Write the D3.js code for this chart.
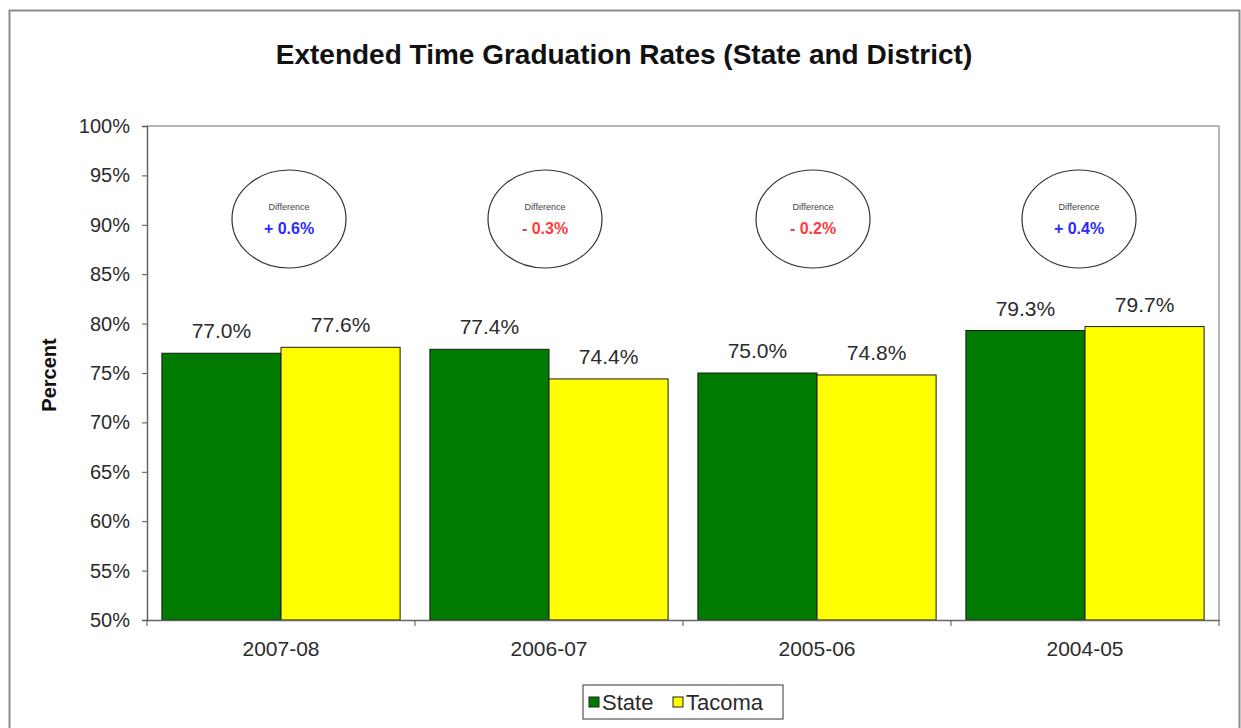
<!DOCTYPE html>
<html>
<head>
<meta charset="utf-8">
<script src="https://cdn.jsdelivr.net/npm/d3@7"></script>
<style>
  html, body { margin: 0; padding: 0; background: #fff; }
  svg { display: block; }
  text { font-family: "Liberation Sans", Arial, sans-serif; }
</style>
</head>
<body>
<svg id="chart" width="1241" height="728"></svg>
<script>
const title = "Extended Time Graduation Rates (State and District)";
const yAxisLabel = "Percent";
const categories = ["2007-08", "2006-07", "2005-06", "2004-05"];
const seriesNames = ["State", "Tacoma"];
const stateValues = [77.0, 77.4, 75.0, 79.3];
const tacomaValues = [77.6, 74.4, 74.8, 79.7];
const differenceLabels = ["+ 0.6%", "- 0.3%", "- 0.2%", "+ 0.4%"];
const differenceSigns = ["pos", "neg", "neg", "pos"];
const yTicks = [50, 55, 60, 65, 70, 75, 80, 85, 90, 95, 100];

const colors = { State: "#007b00", Tacoma: "#ffff00" };
const diffColors = { pos: "#2a2aff", neg: "#ff3b3b" };
const textColor = "#2b2b2b";

const svg = d3.select("#chart");
const plot = { left: 147, right: 1219, top: 126, bottom: 620 };

// outer chart border
svg.append("rect")
  .attr("x", 9.5).attr("y", 10.5)
  .attr("width", 1230).attr("height", 740)
  .attr("fill", "#fff").attr("stroke", "#8c8c8c").attr("stroke-width", 2);

// title
svg.append("text")
  .attr("x", 624).attr("y", 64)
  .attr("text-anchor", "middle")
  .attr("font-size", 28).attr("font-weight", "bold")
  .attr("fill", "#111")
  .text(title);

const x0 = d3.scaleBand().domain(categories)
  .range([plot.left, plot.right]).paddingInner(0).paddingOuter(0);
const x1 = d3.scaleBand().domain(seriesNames)
  .range([0, x0.bandwidth()]).paddingInner(0).paddingOuter(0.125);
const y = d3.scaleLinear().domain([50, 100]).range([plot.bottom, plot.top]);

// plot area border (top/right)
svg.append("path")
  .attr("d", `M${plot.left},${plot.top}H${plot.right}V${plot.bottom}`)
  .attr("fill", "none").attr("stroke", "#a0a0a0").attr("stroke-width", 1.5);

// data rows
const rows = categories.map((c, i) => ({
  category: c,
  values: [
    { series: "State", value: stateValues[i] },
    { series: "Tacoma", value: tacomaValues[i] }
  ],
  diff: differenceLabels[i],
  sign: differenceSigns[i]
}));

// bars
const groups = svg.append("g").selectAll("g")
  .data(rows).join("g")
  .attr("transform", d => `translate(${x0(d.category)},0)`);

groups.selectAll("rect")
  .data(d => d.values).join("rect")
  .attr("x", d => x1(d.series))
  .attr("y", d => y(d.value))
  .attr("width", x1.bandwidth())
  .attr("height", d => y(50) - y(d.value))
  .attr("fill", d => colors[d.series])
  .attr("stroke", "#1a1a1a").attr("stroke-width", 1);

// value labels
groups.selectAll("text.val")
  .data(d => d.values).join("text")
  .attr("class", "val")
  .attr("x", d => x1(d.series) + x1.bandwidth() / 2)
  .attr("y", d => y(d.value) - 15)
  .attr("text-anchor", "middle")
  .attr("font-size", 21)
  .attr("fill", textColor)
  .text(d => d.value.toFixed(1) + "%");

// y axis
const yAxis = svg.append("g")
  .attr("transform", `translate(${plot.left},0)`)
  .call(d3.axisLeft(y).tickValues(yTicks).tickFormat(d => d + "%").tickSize(5).tickPadding(12));
yAxis.selectAll("text").attr("font-size", 20).attr("fill", textColor)
  .attr("font-family", "'Liberation Sans', Arial, sans-serif");
yAxis.selectAll("line").attr("stroke", "#555");
yAxis.select(".domain").attr("stroke", "#666").attr("stroke-width", 1.5);

// x axis
const xAxis = svg.append("g")
  .attr("transform", `translate(0,${plot.bottom})`)
  .call(d3.axisBottom(x0).tickSize(0).tickPadding(21));
xAxis.selectAll("text").attr("font-size", 21).attr("fill", textColor)
  .attr("font-family", "'Liberation Sans', Arial, sans-serif");
xAxis.select(".domain").attr("stroke", "#666").attr("stroke-width", 1.5);
const boundaries = categories.map(c => x0(c)).concat([x0.range()[1]]);
xAxis.selectAll("line.bnd")
  .data(boundaries).join("line")
  .attr("class", "bnd")
  .attr("x1", d => d).attr("x2", d => d)
  .attr("y1", 0).attr("y2", 6)
  .attr("stroke", "#555");

// y axis title
svg.append("text")
  .attr("transform", "translate(56,375) rotate(-90)")
  .attr("text-anchor", "middle")
  .attr("font-size", 20).attr("font-weight", "bold")
  .attr("fill", "#111")
  .text(yAxisLabel);

// difference ellipses
const ellipseCY = 219;
const ellipseShift = [8, -4, -4, -6];
const ell = svg.append("g").selectAll("g")
  .data(rows).join("g")
  .attr("transform", (d, i) => `translate(${x0(d.category) + x0.bandwidth() / 2 + ellipseShift[i]},${ellipseCY})`);
ell.append("ellipse")
  .attr("rx", 57).attr("ry", 49)
  .attr("fill", "#fff").attr("stroke", "#333").attr("stroke-width", 1.2);
ell.append("text")
  .attr("y", -9).attr("text-anchor", "middle")
  .attr("font-size", 9).attr("fill", "#444")
  .text("Difference");
ell.append("text")
  .attr("y", 15).attr("text-anchor", "middle")
  .attr("font-size", 16).attr("font-weight", "bold")
  .attr("fill", d => diffColors[d.sign])
  .text(d => d.diff);

// legend
const legend = svg.append("g").attr("transform", "translate(583,685)");
legend.append("rect")
  .attr("width", 200).attr("height", 34)
  .attr("fill", "#fff").attr("stroke", "#555").attr("stroke-width", 1.2);
const legendX = [6, 90];
const li = legend.selectAll("g.item").data(seriesNames).join("g")
  .attr("class", "item")
  .attr("transform", (d, i) => `translate(${legendX[i]},0)`);
li.append("rect")
  .attr("x", 0).attr("y", 12).attr("width", 10).attr("height", 10)
  .attr("fill", d => colors[d]).attr("stroke", "#222").attr("stroke-width", 1);
li.append("text")
  .attr("x", 13).attr("y", 25)
  .attr("font-size", 22).attr("fill", textColor)
  .text(d => d);
</script>
</body>
</html>
